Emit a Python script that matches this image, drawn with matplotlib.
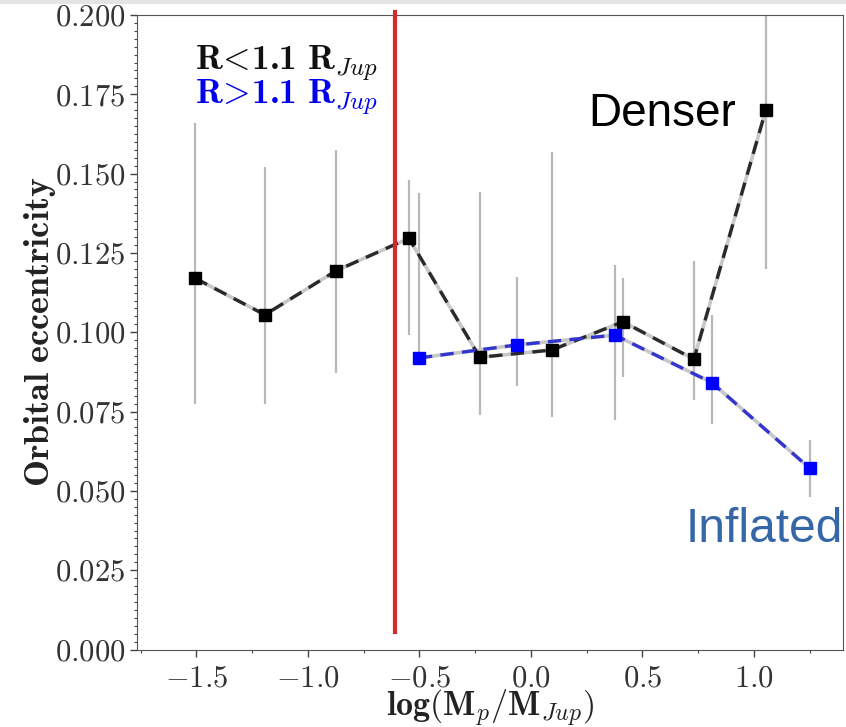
import numpy as np
import matplotlib
matplotlib.use('Agg')
import matplotlib.pyplot as plt
from matplotlib.ticker import MultipleLocator, FuncFormatter
from matplotlib.patches import Rectangle

plt.rcParams['font.family'] = 'serif'
plt.rcParams['font.serif'] = ['cmr10']
plt.rcParams['mathtext.fontset'] = 'cm'
plt.rcParams['axes.formatter.use_mathtext'] = True

# planets with R < 1.1 RJup (denser)
mass_dense = [-1.505, -1.193, -0.873, -0.547, -0.229, 0.094, 0.413, 0.731, 1.054]
ecc_dense = [0.1170, 0.1055, 0.1194, 0.1296, 0.0921, 0.0944, 0.1033, 0.0915, 0.1701]
dense_hi = [0.1661, 0.1520, 0.1575, 0.1480, 0.1442, 0.1568, 0.1170, 0.1223, 0.2300]
dense_lo = [0.0773, 0.0773, 0.0871, 0.0991, 0.0739, 0.0734, 0.0860, 0.0787, 0.1199]

# planets with R > 1.1 RJup (inflated)
mass_infl = [-0.502, -0.063, 0.377, 0.812, 1.251]
ecc_infl = [0.0919, 0.0960, 0.0991, 0.0841, 0.0571]
infl_hi = [0.1440, 0.1173, 0.1212, 0.1055, 0.0660]
infl_lo = [0.0905, 0.0832, 0.0724, 0.0711, 0.0482]

mass_cut = -0.61

fig = plt.figure(figsize=(8.46, 7.27), dpi=100)
ax = fig.add_axes([0.1623, 0.1066, 0.8342, 0.8728])

# error bars (light gray vertical lines)
ax.vlines(mass_dense, dense_lo, dense_hi, color='#b8b8b8', lw=1.6, zorder=1)
ax.vlines(mass_infl, infl_lo, infl_hi, color='#b8b8b8', lw=1.6, zorder=1)

# dashed lines over a pale solid line
ax.plot(mass_dense, ecc_dense, '-', color='#c8c8c8', lw=2.6, zorder=2)
ax.plot(mass_dense, ecc_dense, '--', color='#2a2a2a', lw=2.4, zorder=3,
        marker='s', ms=9, mfc='black', mec='black', dashes=(4, 2.5))
ax.plot(mass_infl, ecc_infl, '-', color='#c8c8c8', lw=2.6, zorder=2)
ax.plot(mass_infl, ecc_infl, '--', color='#3434d0', lw=2.4, zorder=3,
        marker='s', ms=9, mfc='#0000ff', mec='#0000ff', dashes=(4, 2.5))

ax.set_xlim(-1.765, 1.40)
ax.set_ylim(0.0, 0.2)

ax.xaxis.set_major_locator(MultipleLocator(0.5))
ax.xaxis.set_minor_locator(MultipleLocator(0.25))
ax.yaxis.set_major_locator(MultipleLocator(0.025))
ax.yaxis.set_minor_locator(MultipleLocator(0.0025))
ax.xaxis.set_major_formatter(FuncFormatter(lambda v, p: '$%.1f$' % v))
ax.yaxis.set_major_formatter(FuncFormatter(lambda v, p: '$%.3f$' % v))
ax.tick_params(axis='both', which='major', labelsize=22, length=5, width=1, colors='#444444',
               labelcolor='#333333')
ax.tick_params(axis='both', which='minor', length=2.5, width=0.8, colors='#444444')
ax.tick_params(axis='x', which='major', pad=6)
for s in ax.spines.values():
    s.set_color('#555555')

ax.set_xlabel(r'$\mathbf{log(M}_p\mathbf{/M}_{Jup}\mathbf{)}$', fontsize=24.5, color='#222222')
ax.xaxis.set_label_coords(0.4998, -0.059)
ax.set_ylabel(r'$\mathbf{Orbital\ eccentricity}$', fontsize=26, color='#222222', labelpad=-2)

ax.text(0.0817, 0.914, r'R$\!<\!$1.1$\ \mathdefault{R}_{Jup}$', transform=ax.transAxes,
        fontsize=25.5, family='cmb10', color='#111111', va='baseline')
ax.text(0.0817, 0.8597, r'R$\!>\!$1.1$\ \mathdefault{R}_{Jup}$', transform=ax.transAxes,
        fontsize=25.5, family='cmb10', color='#0000ee', va='baseline')

# overlay annotations
ax.axvline(mass_cut, ymin=0.027, ymax=1.005, color='#d42a2a', lw=3, clip_on=False, zorder=5)
fig.text(588 / 846, 1 - 126 / 727, 'Denser', fontsize=33, family='Liberation Sans',
         color='black', va='baseline')
fig.text(686 / 846, 1 - 542 / 727, 'Inflated', fontsize=34.5, family='Liberation Sans',
         color='#3566a8', va='baseline')

fig.add_artist(Rectangle((0, 1 - 4 / 727), 1, 4 / 727, transform=fig.transFigure,
                         color='#e4e4e4', lw=0))

fig.savefig('out.png', dpi=100)
